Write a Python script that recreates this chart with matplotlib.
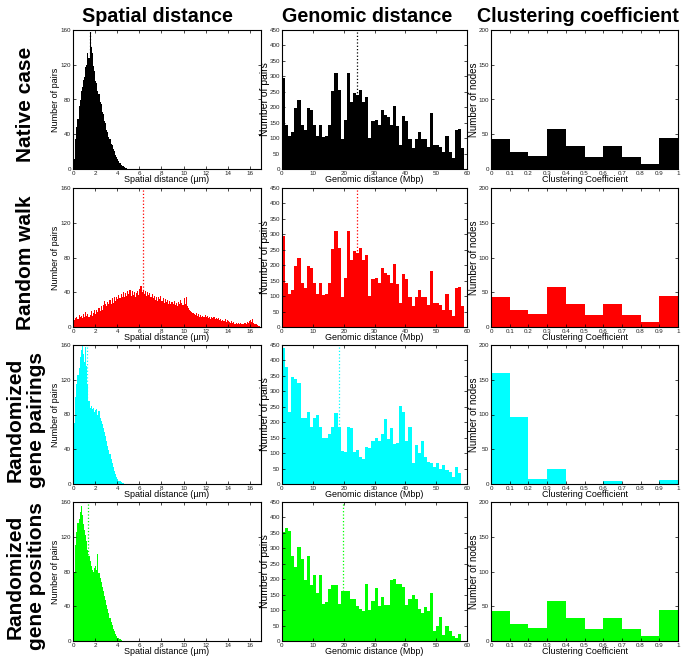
import matplotlib
matplotlib.use('Agg')
import matplotlib.pyplot as plt
import matplotlib.ticker as mticker
import numpy as np

plt.rcParams['font.family'] = ['Liberation Sans', 'DejaVu Sans']

# ---- data ----
col_titles = ['Spatial distance', 'Genomic distance', 'Clustering coefficient']
row_titles = ['Native case', 'Random walk', 'Randomized\ngene pairings', 'Randomized\ngene positions']
row_colors = ['#000000', '#ff0000', '#00ffff', '#00ff00']

# spatial distance histograms, bins of 0.1 um starting at 0
spatial_bin = 0.1
spatial_native = [0, 12, 35, 48, 58, 73, 79, 90, 94, 102, 106, 117, 120, 133, 128, 158, 141, 134, 118, 113,
                  101, 99, 90, 86, 77, 75, 66, 63, 55, 53, 45, 43, 37, 35, 29, 28, 23, 21, 16, 14,
                  11, 9, 7, 5, 4, 3, 2, 1, 1, 0]
spatial_random = [3, 8, 10, 12, 9, 14, 11, 13, 10, 15,
                  12, 17, 13, 15, 11, 14, 18, 13, 16, 19,
                  15, 20, 17, 22, 18, 24, 19, 25, 30, 26,
                  24, 29, 26, 31, 27, 33, 28, 35, 30, 34,
                  32, 37, 33, 38, 35, 40, 34, 39, 36, 42,
                  38, 43, 36, 41, 37, 40, 35, 39, 42, 37,
                  44, 47, 40, 43, 38, 41, 36, 40, 37, 39,
                  34, 38, 33, 36, 31, 35, 30, 34, 32, 36,
                  30, 33, 28, 32, 29, 31, 27, 30, 26, 29,
                  27, 30, 25, 28, 24, 29, 26, 31, 28, 25,
                  33, 27, 35, 24, 22, 20, 18, 17, 16, 15,
                  14, 16, 13, 15, 12, 14, 11, 13, 12, 14,
                  11, 13, 10, 12, 9, 11, 10, 12, 9, 10,
                  9, 10, 8, 9, 7, 8, 7, 9, 6, 8,
                  7, 6, 5, 7, 5, 6, 4, 5, 4, 5,
                  4, 5, 3, 4, 3, 5, 4, 6, 5, 7,
                  8, 6, 9, 5, 4, 3, 2, 1, 1, 0]
spatial_pairings = [20, 70, 100, 115, 126, 134, 146, 154, 162, 150, 141, 158, 136, 115, 95, 88, 90, 86, 87, 83,
                    85, 86, 80, 84, 76, 72, 69, 64, 60, 55, 50, 44, 39, 34, 29, 24, 19, 15, 11, 8,
                    6, 4, 3, 2, 1, 1, 0]
spatial_positions = [30, 80, 110, 125, 136, 140, 149, 155, 145, 135, 128, 122, 115, 105, 98, 92, 86, 82, 80, 84,
                     86, 82, 100, 78, 72, 68, 62, 57, 52, 47, 42, 37, 32, 27, 22, 18, 14, 11, 8, 6,
                     4, 3, 2, 1, 0]

# genomic distance histograms, bins of 1 Mbp starting at 0
genomic_bin = 1.0
genomic_native = [295, 144, 107, 120, 198, 222, 144, 126, 197, 191, 144, 108, 144, 102, 107, 144, 251, 312, 257, 97,
                  160, 312, 216, 245, 240, 257, 216, 233, 101, 155, 160, 144, 191, 174, 168, 144, 203, 138, 77, 173,
                  156, 97, 67, 97, 120, 97, 97, 72, 180, 78, 78, 72, 54, 108, 54, 37, 125, 131, 67]
genomic_random = list(genomic_native)
genomic_pairings = [440, 380, 233, 345, 340, 328, 215, 215, 233, 186, 215, 222, 186, 150, 150, 161, 186, 229, 186, 108,
                    104, 186, 180, 104, 110, 88, 80, 121, 115, 140, 150, 140, 163, 210, 145, 180, 129, 133, 252, 233,
                    140, 185, 69, 127, 101, 138, 88, 72, 68, 56, 67, 48, 61, 45, 38, 24, 56, 35]
genomic_positions = [352, 365, 355, 274, 240, 304, 267, 196, 274, 180, 215, 156, 215, 120, 126, 167, 180, 180, 120, 161,
                     161, 161, 136, 136, 113, 104, 97, 185, 100, 131, 172, 113, 143, 118, 118, 196, 202, 183, 186, 174,
                     118, 136, 150, 136, 105, 91, 110, 97, 155, 32, 48, 77, 18, 47, 32, 16, 11, 24]

# clustering coefficient histograms, bins of 0.1
clust_bin = 0.1
clust_native = [43, 25, 19, 57, 33, 17, 33, 17, 7, 44]
clust_random = [43, 25, 19, 57, 33, 17, 33, 17, 7, 44]
clust_pairings = [160, 96, 7, 21, 0, 0, 4, 0, 0, 6]
clust_positions = [43, 25, 19, 57, 33, 17, 33, 17, 7, 44]

# mean markers (dotted lines)
spatial_means = [1.55, 6.3, 1.3, 1.4]
genomic_means = [24.4, 24.4, 18.5, 19.9]

spatial_sets = [spatial_native, spatial_random, spatial_pairings, spatial_positions]
genomic_sets = [genomic_native, genomic_random, genomic_pairings, genomic_positions]
clust_sets = [clust_native, clust_random, clust_pairings, clust_positions]

# ---- layout in pixels ----
W, H = 683, 659
col_left = [73, 282, 491]
col_width = [188, 185, 187]
row_top = [30, 188, 345, 502]
row_h = 139

fig = plt.figure(figsize=(W / 100, H / 100), dpi=100)


def style_axes(ax, xlim, ylim, xstep, ystep, xlabel, ylabel, w_px, ylab_size=6.5):
    ax.set_xlim(*xlim)
    ax.set_ylim(*ylim)
    ax.xaxis.set_major_locator(mticker.MultipleLocator(xstep))
    ax.yaxis.set_major_locator(mticker.MultipleLocator(ystep))
    ax.xaxis.set_major_formatter(mticker.FormatStrFormatter('%g'))
    ax.tick_params(direction='in', length=2.5, width=0.5, labelsize=4.5, pad=1.5,
                   top=True, right=True, colors='black', labelcolor='#222222')
    for s in ax.spines.values():
        s.set_linewidth(0.8)
    ax.set_xlabel(xlabel, fontsize=6.5, labelpad=0)
    ax.set_ylabel(ylabel, fontsize=ylab_size, labelpad=0, va='center')
    ax.xaxis.set_label_coords(0.5, -0.045)
    ax.yaxis.set_label_coords(-17 / w_px, 0.5)


for r in range(4):
    c = row_colors[r]
    axs = []
    for k in range(3):
        rect = [col_left[k] / W, 1 - (row_top[r] + row_h) / H, col_width[k] / W, row_h / H]
        axs.append(fig.add_axes(rect))

    # spatial
    ax = axs[0]
    vals = spatial_sets[r]
    edges = np.arange(len(vals) + 1) * spatial_bin
    ax.stairs(vals, edges, fill=True, color=c, lw=0)
    ax.axvline(spatial_means[r], color=c, ls=':', lw=0.9)
    style_axes(ax, (0, 17), (0, 160), 2, 40, u'Spatial distance (\u00b5m)', 'Number of pairs', col_width[0])

    # genomic
    ax = axs[1]
    vals = genomic_sets[r]
    edges = np.arange(len(vals) + 1) * genomic_bin
    ax.stairs(vals, edges, fill=True, color=c, lw=0)
    ax.axvline(genomic_means[r], color=c, ls=':', lw=0.9)
    style_axes(ax, (0, 60), (0, 450), 10, 50, 'Genomic distance (Mbp)', 'Number of pairs', col_width[1],
               ylab_size=7.5)

    # clustering
    ax = axs[2]
    vals = clust_sets[r]
    edges = np.arange(len(vals) + 1) * clust_bin
    ax.stairs(vals, edges, fill=True, color=c, lw=0)
    style_axes(ax, (0, 1), (0, 200), 0.1, 50, 'Clustering Coefficient', 'Number of nodes', col_width[2],
               ylab_size=7)

    # row label
    yc = row_top[r] + row_h / 2 + 5
    fig.text(26 / W, 1 - yc / H, row_titles[r], rotation=90, ha='center', va='center',
             fontsize=15, fontweight='bold', multialignment='center', linespacing=1.2)

col_centers = [157, 367, 578]
for k in range(3):
    fig.text(col_centers[k] / W, 1 - 16 / H, col_titles[k], ha='center', va='center',
             fontsize=14.2, fontweight='bold')

fig.savefig('out.png', dpi=100)
